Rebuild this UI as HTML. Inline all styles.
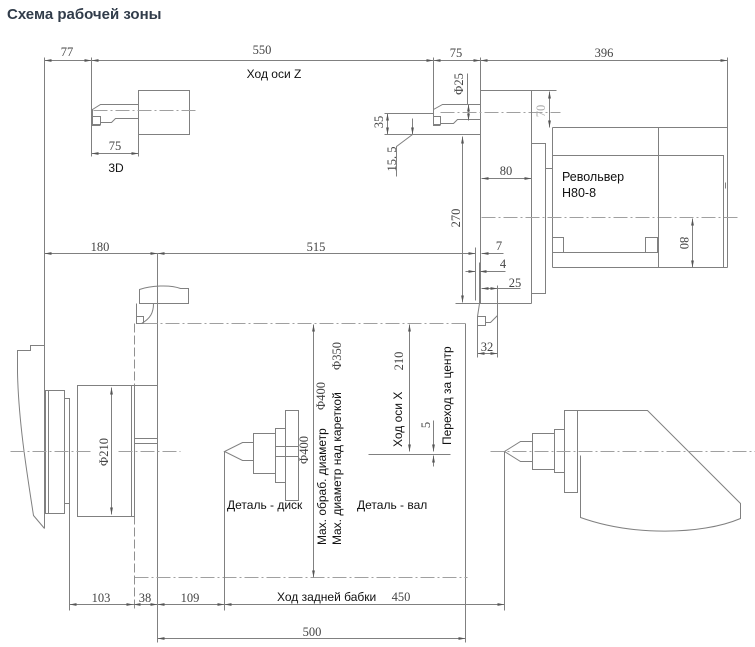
<!DOCTYPE html>
<html><head><meta charset="utf-8"><style>
html,body{margin:0;padding:0;background:#fff;}
svg{display:block;}
.l{stroke:#808080;stroke-width:1;fill:none;}
.c{stroke:#a0a0a0;stroke-width:1;fill:none;stroke-dasharray:14 3 2 3;}
.k{stroke:#909090;stroke-width:1;fill:none;stroke-dasharray:9 3;}
.d{stroke:#808080;stroke-width:1;fill:none;marker-start:url(#a);marker-end:url(#a);}
.de{stroke:#808080;stroke-width:1;fill:none;marker-end:url(#a);}
.ds{stroke:#808080;stroke-width:1;fill:none;marker-start:url(#a);}
.n{font-family:"Liberation Serif",serif;font-size:12.5px;fill:#444;}
.t{font-family:"Liberation Sans","Noto Sans CJK SC",sans-serif;font-size:12px;fill:#111;}
</style></head><body>
<svg width="755" height="647" viewBox="0 0 755 647" xmlns="http://www.w3.org/2000/svg">
<defs><marker id="a" markerUnits="userSpaceOnUse" markerWidth="7" markerHeight="4" refX="7" refY="2" orient="auto-start-reverse" viewBox="0 0 7 4"><path d="M0,0.6 L7,2 L0,3.4z" fill="#555"/></marker></defs>
<text x="7" y="19" style="font-family:'Liberation Sans',sans-serif;font-size:15px;font-weight:bold;fill:#313c4a">Схема рабочей зоны</text>
<g transform="translate(0.5,0.5)">
<path class="l" d="M44,57V528 M91,57V156 M433,57V112 M480,57V303 M727,57V267"/>
<line class="d" x1="44" y1="60" x2="91" y2="60"/>
<line class="d" x1="91" y1="60" x2="433" y2="60"/>
<line class="d" x1="433" y1="60" x2="480" y2="60"/>
<line class="d" x1="480" y1="60" x2="727" y2="60"/>
<rect class="l" x="138" y="90" width="51" height="44"/>
<path class="l" d="M138,104 H100 L92,109 V125 H100 M100,122 H111 L115,118 H138"/>
<rect class="l" x="92" y="116" width="8" height="8"/>
<path class="c" d="M93,110 H195"/>
<path class="l" d="M138,134 V156"/>
<line class="d" x1="91" y1="153" x2="138" y2="153"/>
<path class="l" d="M480,104 H442 L433,109 V125 H440 M440,123 H453 L457,119 H480"/>
<rect class="l" x="433" y="116" width="7" height="8"/>
<path class="l" d="M384,113 H433 M384,134 H480"/>
<line class="d" x1="387" y1="113" x2="387" y2="134"/>
<line class="d" x1="468" y1="104" x2="468" y2="120"/>
<path class="l" d="M467,73 V104"/>
<line class="de" x1="412" y1="118" x2="412" y2="134"/>
<path class="l" d="M412,134 L396,146 V176"/>
<path class="c" d="M440,112 H560"/>
<line class="d" x1="462" y1="136" x2="462" y2="302"/>
<path class="l" d="M455,303 H531"/>
<path class="l" d="M480,90 H556 M531,90 V303 M531,143 H545 V293 H531 M545,168 H552 M552,127 V267"/>
<line class="d" x1="549" y1="91" x2="549" y2="127"/>
<line class="d" x1="481" y1="178" x2="531" y2="178"/>
<path class="c" d="M481,217 H740"/>
<path class="l" d="M552,127 H727 M552,155 H723 V267 M552,267 H727 M658,127 V267 M563,252 H645"/>
<rect class="l" x="552" y="237" width="11" height="15"/>
<rect class="l" x="645" y="237" width="12" height="15"/>
<path class="l" d="M658,182v6 M725,182v6"/>
<line class="d" x1="692" y1="218" x2="692" y2="267"/>
<line class="d" x1="44" y1="253" x2="157" y2="253"/>
<line class="d" x1="157" y1="253" x2="475" y2="253"/>
<line class="ds" x1="481" y1="253" x2="503" y2="253"/>
<path class="l" d="M475,247 V300 M479,262 V303"/>
<line class="de" x1="465" y1="271" x2="475" y2="271"/>
<line class="ds" x1="479" y1="271" x2="505" y2="271"/>
<line class="d" x1="481" y1="288" x2="497" y2="288"/>
<path class="l" d="M497,288 H520 M497,285 V357 M477,325 V357"/>
<path class="l" d="M479,303 L477,316 M485,322 H490 L497,315"/>
<rect class="l" x="477" y="316" width="8" height="9"/>
<line class="d" x1="477" y1="353" x2="497" y2="353"/>
<path class="l" d="M139,303 V289 C150,285 170,284 180,288 L188,288 V303 H139 Z M136,303 V323 M153,303 C153,312 150,318 141,323"/>
<rect class="l" x="136" y="316" width="7" height="7"/>
<path class="l" d="M157,253 V642 M465,323 V642"/>
<path class="c" d="M143,323 H465 M134,577 H467"/>
<path class="k" d="M134,323 V610"/>
<line class="d" x1="313" y1="324" x2="313" y2="577"/>
<line class="d" x1="409" y1="324" x2="409" y2="451"/>
<path class="l" d="M368,454 H450 M433,420 V440"/>
<line class="de" x1="433" y1="440" x2="433" y2="451"/>
<line class="de" x1="433" y1="466" x2="433" y2="455"/>
<path class="l" d="M44,345 H30 V350 H17 V372 C18,420 26,470 33,515 L44,528"/>
<rect class="l" x="45" y="390" width="19" height="123"/>
<path class="l" d="M48,390 V513"/>
<rect class="l" x="64" y="398" width="5" height="105"/>
<rect class="l" x="77" y="385" width="54" height="131"/>
<rect class="l" x="131" y="385" width="3" height="131"/>
<rect class="l" x="134" y="385" width="23" height="58"/>
<path class="l" d="M134,438 H157"/>
<line class="d" x1="111" y1="387" x2="111" y2="514"/>
<path class="l" d="M69,503 V610"/>
<path class="c" d="M10,451 H92 M118,451 H180"/>
<path class="l" d="M253,442 H242 L224,451 L242,460 H253"/>
<rect class="l" x="253" y="433" width="22" height="40"/>
<rect class="l" x="275" y="428" width="10" height="54"/>
<rect class="l" x="285" y="410" width="13" height="90"/>
<path class="l" d="M275,446 H298 M275,456 H298 M224,451 V610"/>
<path class="l" d="M532,441 H520 L504,451 L520,461 H532"/>
<rect class="l" x="532" y="433" width="22" height="36"/>
<rect class="l" x="554" y="429" width="10" height="43"/>
<rect class="l" x="564" y="410" width="13" height="82"/>
<path class="l" d="M577,410 H647 L740,503 V518 C700,535 630,535 580,517 V455 M504,451 V610"/>
<path class="c" d="M490,451 H755"/>
<line class="d" x1="69" y1="604" x2="133" y2="604"/>
<line class="d" x1="133" y1="604" x2="157" y2="604"/>
<line class="d" x1="157" y1="604" x2="224" y2="604"/>
<line class="d" x1="224" y1="604" x2="504" y2="604"/>
<line class="d" x1="157" y1="638" x2="465" y2="638"/>
</g>
<g class="n" text-anchor="middle">
<text x="67" y="56">77</text>
<text x="262" y="54">550</text>
<text x="456" y="57">75</text>
<text x="604" y="57">396</text>
<text x="115" y="150">75</text>
<text x="100" y="251">180</text>
<text x="316" y="251">515</text>
<text x="506" y="175">80</text>
<text x="499" y="250">7</text>
<text x="503" y="268">4</text>
<text x="515" y="287">25</text>
<text x="487" y="351">32</text>
<text x="101" y="602">103</text>
<text x="145" y="602">38</text>
<text x="190" y="602">109</text>
<text x="401" y="601">450</text>
<text x="312" y="636">500</text>
</g>
<g class="n" text-anchor="middle" dominant-baseline="central">
<text transform="translate(459,84) rotate(-90)">Φ25</text>
<text transform="translate(379,122) rotate(-90)">35</text>
<text transform="translate(392,159) rotate(-90)">15. 5</text>
<text transform="translate(456,218) rotate(-90)">270</text>
<text transform="translate(541,111) rotate(-90)" style="fill:#aaa">70</text>
<text transform="translate(684,243) rotate(90)">80</text>
<text transform="translate(104,452) rotate(-90)">Φ210</text>
<text transform="translate(304,450) rotate(-90)">Φ400</text>
<text transform="translate(321,396) rotate(-90)">Φ400</text>
<text transform="translate(337,356) rotate(-90)">Φ350</text>
<text transform="translate(399,361) rotate(-90)">210</text>
<text transform="translate(426,425) rotate(-90)">5</text>
</g>
<g class="t">
<text x="274" y="78" text-anchor="middle">Ход оси Z</text>
<text x="116" y="172" text-anchor="middle">3D</text>
<text x="562" y="181" style="font-size:12.5px">Револьвер</text>
<text x="562" y="197" style="font-size:12.5px">H80-8</text>
<text x="227" y="509">Деталь - диск</text>
<text x="357" y="509">Деталь - вал</text>
<text x="277" y="601">Ход задней бабки</text>
</g>
<g class="t" dominant-baseline="central">
<text transform="translate(322,545) rotate(-90)">Max. обраб. диаметр</text>
<text transform="translate(337,545) rotate(-90)">Max. диаметр над кареткой</text>
<text transform="translate(398,447) rotate(-90)">Ход оси X</text>
<text transform="translate(447,445) rotate(-90)">Переход за центр</text>
</g>
</svg>
</body></html>
